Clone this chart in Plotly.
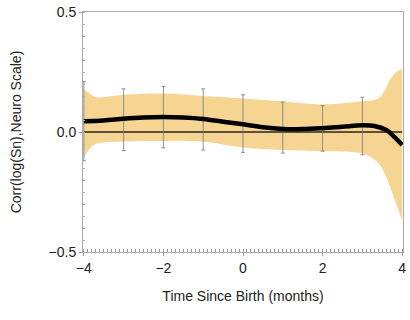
import plotly.graph_objects as go

# Smoothed correlation curve
t_curve = [-4.0, -3.5, -3.0, -2.5, -2.0, -1.5, -1.0, -0.5, 0.0, 0.5, 1.0, 1.5, 2.0, 2.5, 3.0, 3.3, 3.6, 3.8, 4.0]
corr = [0.045, 0.048, 0.055, 0.060, 0.062, 0.060, 0.054, 0.043, 0.032, 0.020, 0.013, 0.012, 0.016, 0.022, 0.028, 0.025, 0.008, -0.020, -0.054]

# Confidence band
t_band = [-4.0, -3.85, -3.7, -3.0, -2.0, -1.0, 0.0, 1.0, 2.0, 3.0, 3.4, 3.55, 3.7, 3.85, 4.0]
band_hi = [0.18, 0.16, 0.145, 0.155, 0.16, 0.15, 0.14, 0.128, 0.115, 0.128, 0.14, 0.17, 0.22, 0.25, 0.265]
band_lo = [-0.107, -0.07, -0.05, -0.04, -0.037, -0.04, -0.065, -0.075, -0.08, -0.09, -0.13, -0.17, -0.23, -0.30, -0.37]

# Error bars
t_err = [-4, -3, -2, -1, 0, 1, 2, 3]
err_center = [0.045, 0.055, 0.062, 0.054, 0.032, 0.013, 0.016, 0.028]
err_top = [0.21, 0.18, 0.19, 0.18, 0.155, 0.125, 0.11, 0.145]
err_bottom = [-0.12, -0.077, -0.066, -0.075, -0.085, -0.088, -0.08, -0.095]

fig = go.Figure()
fig.add_trace(go.Scatter(x=t_band, y=band_hi, mode="lines", line=dict(width=0, shape="spline"),
                         hoverinfo="skip", showlegend=False))
fig.add_trace(go.Scatter(x=t_band, y=band_lo, mode="lines", line=dict(width=0, shape="spline"),
                         fill="tonexty", fillcolor="#F6D592", hoverinfo="skip", showlegend=False))
fig.add_trace(go.Scatter(x=[-4, 4], y=[0, 0], mode="lines", line=dict(color="#2a2420", width=1.5),
                         showlegend=False))
fig.add_trace(go.Scatter(
    x=t_err, y=err_center, mode="markers", marker=dict(size=0.1, color="rgba(0,0,0,0)"),
    error_y=dict(type="data", symmetric=False,
                 array=[h - c for h, c in zip(err_top, err_center)],
                 arrayminus=[c - l for c, l in zip(err_center, err_bottom)],
                 color="#777777", thickness=0.8, width=2),
    showlegend=False))
fig.add_trace(go.Scatter(x=t_curve, y=corr, mode="lines", line=dict(color="black", width=4.5, shape="spline"),
                         showlegend=False))

font = "Liberation Sans, Arial, sans-serif"
fig.update_layout(
    width=410, height=320,
    margin=dict(l=83, r=4, t=10, b=68),
    plot_bgcolor="white", paper_bgcolor="white",
    font=dict(family=font, color="#222222", size=14),
)
fig.update_xaxes(
    range=[-4.02, 4.02], tickvals=[-4, -2, 0, 2, 4], ticktext=["\u22124", "\u22122", "0", "2", "4"],
    showgrid=False, zeroline=False, showline=True, linecolor="#aaaaaa", linewidth=1, mirror=True,
    ticks="outside", ticklen=3, tickcolor="#999999",
    minor=dict(dtick=0.1, tick0=0, ticks="inside", ticklen=3, tickcolor="#999999", showgrid=False),
    title=dict(text="Time Since Birth (months)", font=dict(size=14), standoff=16),
    tickfont=dict(size=14),
)
fig.update_yaxes(
    range=[-0.5, 0.5], tickvals=[-0.5, 0, 0.5], ticktext=["\u22120.5", "0.0", "0.5"],
    showgrid=False, zeroline=False, showline=True, linecolor="#aaaaaa", linewidth=1, mirror=True,
    ticks="outside", ticklen=3, tickcolor="#999999",
    minor=dict(dtick=0.05, tick0=0, ticks="inside", ticklen=2, tickcolor="#aaaaaa", showgrid=False),
    title=dict(text="Corr(log(Sn),Neuro Scale)", font=dict(size=14), standoff=23),
    tickfont=dict(size=14),
)
fig.write_html("out.html")
